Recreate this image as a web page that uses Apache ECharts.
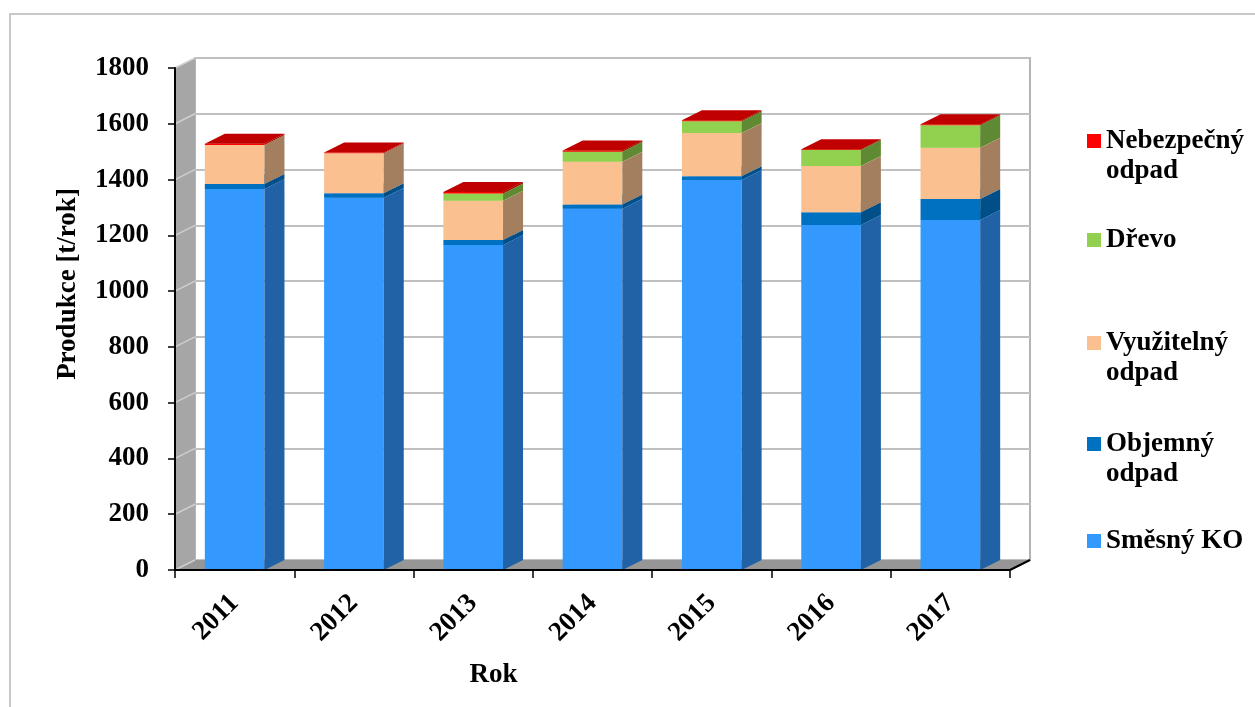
<!DOCTYPE html>
<html><head><meta charset="utf-8">
<script src="https://cdn.jsdelivr.net/npm/echarts@6/dist/echarts.min.js"></script>
<style>html,body{margin:0;padding:0;background:#fff}#c{width:1255px;height:707px}</style>
</head><body><div id="c"></div>
<script>
// ---- data ----
const categories = ['2011','2012','2013','2014','2015','2016','2017'];
const smesnyKO   = [1366, 1335, 1165, 1295, 1398, 1237, 1255];
const objemny    = [18, 16, 18, 16, 14, 46, 75];
const vyuzitelny = [140, 143, 141, 153, 155, 166, 184];
const drevo      = [0, 0, 26, 36, 42, 57, 81];
const nebezpecny = [4, 3, 5, 4, 4, 3, 3];
const seriesNames = ['Směsný KO', 'Objemný odpad', 'Využitelný odpad', 'Dřevo', 'Nebezpečný odpad'];
const legendLabels = ['Směsný KO', '\nObjemný\nodpad', '\nVyužitelný\nodpad', 'Dřevo', '\nNebezpečný\nodpad'];
const yMin = 0, yMax = 1800, yInterval = 200;

// ---- styles ----
const DX = 20, DY = -10;
const FONT = "'Liberation Serif','Times New Roman',serif";
const FS = 27;
const styles = [
  {front:'#3399FF', side:'#2161A6', top:'#5BAEFF'},
  {front:'#0070C0', side:'#004F88', top:'#2A88D0'},
  {front:'#FAC090', side:'#A37F5F', top:'#FCD3B0'},
  {front:'#92D050', side:'#5F8A33', top:'#A9DC73'},
  {front:'#FF0000', side:'#A00000', top:'#C00000'}
];
const valuesList = [smesnyKO, objemny, vyuzitelny, drevo, nebezpecny];

const yTickValues = [];
for (let v = yMin; v <= yMax; v += yInterval) yTickValues.push(v);

function barRender(st) {
  return function (params, api) {
    const idx = api.value(0), base = api.value(1), top = api.value(2);
    if (!(top - base > 0)) return null;
    const p0 = api.coord([idx, base]), p1 = api.coord([idx, top]);
    const w = api.size([1, 0])[0] * 0.5;
    const xl = p0[0] - w / 2, xr = p0[0] + w / 2, yb = p0[1], yt = p1[1];
    return {type:'group', children:[
      {type:'rect', shape:{x:xl, y:yt, width:w, height:yb - yt}, style:{fill:st.front}},
      {type:'polygon', shape:{points:[[xr,yb],[xr,yt],[xr+DX,yt+DY],[xr+DX,yb+DY]]}, style:{fill:st.side}},
      {type:'polygon', shape:{points:[[xl,yt],[xr,yt],[xr+DX,yt+DY],[xl+DX,yt+DY]]}, style:{fill:st.top}}
    ]};
  };
}

const cum = categories.map(() => 0);
const barSeries = valuesList.map((vals, s) => {
  const data = categories.map((c, i) => {
    const b = cum[i]; cum[i] += vals[i];
    return [i, b, b + vals[i]];
  });
  return {
    type:'custom', name:seriesNames[s], xAxisIndex:0, yAxisIndex:0, z:3,
    itemStyle:{color:styles[s].front},
    encode:{x:0, y:[1,2]},
    renderItem: barRender(styles[s]),
    data: data
  };
});

const wallSeries = {
  type:'custom', silent:true, xAxisIndex:0, yAxisIndex:0, z:1,
  encode:{x:0, y:1},
  data:[[0, 0]],
  renderItem: function (params, api) {
    const cs = params.coordSys;
    const x = cs.x, y = cs.y, w = cs.width, h = cs.height;
    const ch = [
      {type:'polygon', shape:{points:[[x,y+h],[x,y],[x+DX,y+DY],[x+DX,y+h+DY]]}, style:{fill:'#A6A6A6'}},
      {type:'polygon', shape:{points:[[x,y+h],[x+w,y+h],[x+w+DX,y+h+DY],[x+DX,y+h+DY]]}, style:{fill:'#969696'}},
      {type:'line', shape:{x1:x+w, y1:y+h, x2:x+w+DX, y2:y+h+DY}, style:{stroke:'#000', lineWidth:2}}
    ];
    yTickValues.forEach(v => {
      const py = api.coord([0, v])[1];
      ch.push({type:'line', shape:{x1:x, y1:py, x2:x+DX, y2:py+DY}, style:{stroke:'#CFCFCF', lineWidth:1.5}});
    });
    return {type:'group', children:ch};
  }
};

const legendTops = [526, 399, 298, 225, 96];
const legends = seriesNames.map((n, s) => ({
  data:[n], left:1087, top:legendTops[s], padding:0, orient:'vertical',
  icon:'rect', itemWidth:14, itemHeight:14, selectedMode:false,
  formatter: () => legendLabels[s],
  textStyle:{fontFamily:FONT, fontWeight:'bold', fontSize:FS, color:'#000', lineHeight:30}
}));

const chart = echarts.init(document.getElementById('c'));
chart.setOption({
  backgroundColor:'#fff',
  animation:false,
  graphic:[{type:'rect', shape:{x:10, y:14, width:1260, height:720}, style:{fill:'none', stroke:'#C8C8C8', lineWidth:2}, z:-10}],
  legend: legends,
  grid:[
    {left:175, right:245, top:68, bottom:137},
    {left:195, right:225, top:58, bottom:147, show:true, borderColor:'#B4B4B4', borderWidth:2, backgroundColor:'#fff'}
  ],
  xAxis:[
    {type:'category', gridIndex:0, data:categories, z:10,
     name:'Rok', nameLocation:'middle', nameGap:92,
     nameTextStyle:{fontFamily:FONT, fontWeight:'bold', fontSize:FS, color:'#000', padding:[0,198,0,0]},
     axisLine:{lineStyle:{color:'#000', width:2}},
     axisTick:{show:true, length:8, lineStyle:{color:'#000', width:1.5}},
     axisLabel:{rotate:45, interval:0, margin:29, fontFamily:FONT, fontWeight:'bold', fontSize:FS, color:'#000'}},
    {type:'category', gridIndex:1, data:categories, show:false}
  ],
  yAxis:[
    {type:'value', gridIndex:0, min:yMin, max:yMax, interval:yInterval, z:10,
     name:'Produkce [t/rok]', nameLocation:'middle', nameGap:93, nameRotate:90,
     nameTextStyle:{fontFamily:FONT, fontWeight:'bold', fontSize:FS, color:'#000', padding:[0,0,0,70]},
     axisLine:{show:true, lineStyle:{color:'#000', width:2}},
     axisTick:{show:true, length:7, lineStyle:{color:'#000', width:1.5}},
     splitLine:{show:false},
     axisLabel:{margin:26, fontFamily:FONT, fontWeight:'bold', fontSize:FS, color:'#000', formatter: v => String(v)}},
    {type:'value', gridIndex:1, min:yMin, max:yMax, interval:yInterval,
     axisLine:{show:false}, axisTick:{show:false}, axisLabel:{show:false},
     splitLine:{show:true, lineStyle:{color:'#C0C0C0', width:2}}}
  ],
  series:[wallSeries].concat(barSeries)
});
</script></body></html>
